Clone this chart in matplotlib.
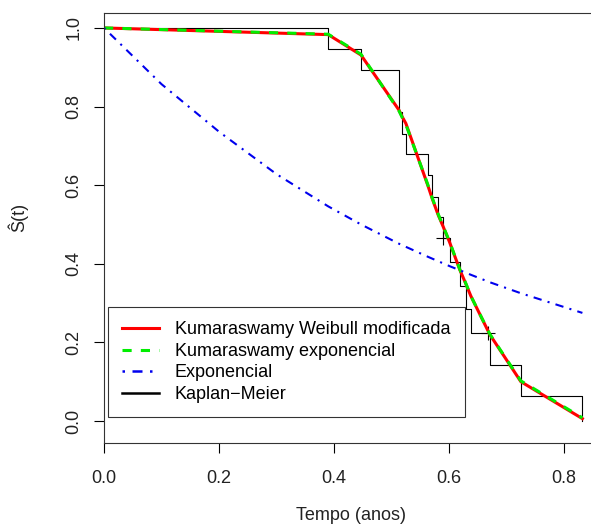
import matplotlib
matplotlib.use("Agg")
import matplotlib.pyplot as plt
from matplotlib.lines import Line2D

plt.rcParams["font.family"] = ["Liberation Sans", "DejaVu Sans"]

# Kaplan-Meier steps (time of event, survival after it)
km_t = [0.390, 0.447, 0.513, 0.519, 0.525, 0.563, 0.571, 0.581, 0.590,
        0.601, 0.619, 0.629, 0.638, 0.671, 0.725, 0.832]
km_s = [0.946, 0.892, 0.785, 0.730, 0.678, 0.625, 0.571, 0.518, 0.466,
        0.405, 0.344, 0.284, 0.223, 0.142, 0.064, 0.0]
cens_t = [0.590, 0.668]
cens_s = [0.466, 0.223]

# fitted curves evaluated at observed times
fit_t = [0.0, 0.390, 0.447, 0.513, 0.519, 0.525, 0.563, 0.571, 0.581, 0.590,
         0.601, 0.619, 0.629, 0.638, 0.671, 0.725, 0.832]
kwm_s = [1.0, 0.983, 0.931, 0.791, 0.773, 0.757, 0.600, 0.565, 0.525, 0.494,
         0.455, 0.384, 0.350, 0.318, 0.220, 0.100, 0.006]
kexp_s = [1.0, 0.984, 0.933, 0.789, 0.771, 0.754, 0.602, 0.567, 0.527, 0.495,
          0.456, 0.385, 0.351, 0.318, 0.221, 0.102, 0.008]

exp_t = [0.0, 0.1, 0.2, 0.3, 0.390, 0.447, 0.513, 0.563, 0.601, 0.638,
         0.671, 0.725, 0.832]
exp_s = [1.0, 0.857, 0.736, 0.628, 0.546, 0.500, 0.451, 0.418, 0.394,
         0.372, 0.353, 0.325, 0.275]

labels = ["Kumaraswamy Weibull modificada", "Kumaraswamy exponencial",
          "Exponencial", "Kaplan\u2212Meier"]

fig = plt.figure(figsize=(5.91, 5.31), dpi=100)
ax = fig.add_axes([104 / 591, 88 / 531, 494.5 / 591, 430 / 531])

# KM step curve
xs, ys = [0.0], [1.0]
prev = 1.0
for t, s in zip(km_t, km_s):
    xs += [t, t]
    ys += [prev, s]
    prev = s
ax.plot(xs, ys, color="black", lw=0.8)
ax.plot(cens_t, cens_s, ls="none", marker="+", ms=10, mew=0.8, color="black")

ax.plot(fit_t, kwm_s, color="#ff0000", lw=2.2)
ax.plot(fit_t, kexp_s, color="#00ee00", lw=2.2, dashes=(3, 3))
ax.plot(exp_t, exp_s, color="#0000ee", lw=1.5, dashes=(1, 3, 4, 3))

ax.set_xlim(0, 0.86)
ax.set_ylim(-0.056, 1.038)
ax.set_xticks([0.0, 0.2, 0.4, 0.6, 0.8])
ax.set_yticks([0.0, 0.2, 0.4, 0.6, 0.8, 1.0])
ax.set_xticklabels(["0.0", "0.2", "0.4", "0.6", "0.8"])
ax.set_yticklabels(["0.0", "0.2", "0.4", "0.6", "0.8", "1.0"])
ax.tick_params(direction="out", length=7.5, width=0.8, labelsize=13,
               color="black", labelcolor="#222222")
ax.tick_params(axis="x", pad=12)
ax.tick_params(axis="y", pad=8)
for lab in ax.get_yticklabels():
    lab.set_rotation(90)
    lab.set_va("center")
    lab.set_ha("right")
for sp in ax.spines.values():
    sp.set_linewidth(0.8)
    sp.set_color("#333333")

ax.set_xlabel("Tempo (anos)", fontsize=13, color="#222222")
ax.xaxis.set_label_coords(0.5, -0.148)
ax.set_ylabel("\u015c(t)", fontsize=13, color="#222222")
ax.yaxis.set_label_coords(-0.154, 0.525)

handles = [
    Line2D([], [], color="#ff0000", lw=2.2),
    Line2D([], [], color="#00ee00", lw=2.2, dashes=(3, 3)),
    Line2D([], [], color="#0000ee", lw=1.8, dashes=(1, 3, 4, 3)),
    Line2D([], [], color="black", lw=1.8),
]
leg = ax.legend(handles, labels, loc="upper left",
                bbox_to_anchor=(108 / 591, 1 - 307 / 531),
                bbox_transform=fig.transFigure, fontsize=13, frameon=True,
                fancybox=False, edgecolor="black", borderpad=0.8,
                labelspacing=0.25, handlelength=2.0, handletextpad=0.9,
                borderaxespad=0)
leg.get_frame().set_linewidth(0.8)

fig.savefig("out.png", dpi=100)
